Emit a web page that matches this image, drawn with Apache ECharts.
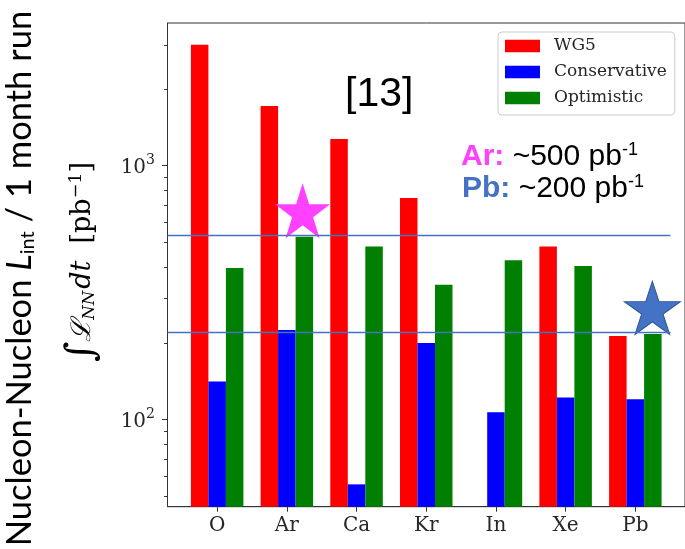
<!DOCTYPE html>
<html>
<head>
<meta charset="utf-8">
<script src="https://cdn.jsdelivr.net/npm/echarts@6/dist/echarts.min.js"></script>
<style>
  html, body { margin: 0; padding: 0; background: #ffffff; }
  #chart { width: 685px; height: 549px; }
</style>
</head>
<body>
<div id="chart"></div>
<script>
// Nucleon-nucleon integrated luminosity per 1-month run, by ion species
const nuclei = ['O', 'Ar', 'Ca', 'Kr', 'In', 'Xe', 'Pb'];
const wg5 = [3000, 1720, 1275, 746, null, 480, 213];
const conservative = [141, 225, 55.4, 200, 106.5, 122, 120];
const optimistic = [395, 525, 480, 339, 424, 402, 217];

// log-axis ticks
const yMajorTicks = [100, 1000];
const yMinorTicks = [50, 60, 70, 80, 90, 200, 300, 400, 500, 600, 700, 800, 900, 2000, 3000];

// reference levels (pb^-1) for Ar and Pb, and the star markers [x position, value]
const targetLevels = [532, 220];
const starMarks = [[1.226, 664], [6.244, 275]];

const xMin = -0.7125, xMax = 6.7125;
const yMin = 45.23, yMax = 3653;

function starPath() {
  const pts = [];
  for (let k = 0; k < 10; k++) {
    const r = k % 2 === 0 ? 100 : 38.2;
    const a = -Math.PI / 2 + k * Math.PI / 5;
    pts.push((r * Math.cos(a)).toFixed(2) + ' ' + (r * Math.sin(a)).toFixed(2));
  }
  return 'path://M' + pts.join(' L') + ' Z';
}

const serif = '"DejaVu Serif", serif';
const sans = '"Liberation Sans", Arial, sans-serif';
const axisColor = '#333333';

function pairs(arr) {
  const out = [];
  arr.forEach((v, i) => { if (v != null) out.push([i, v]); });
  return out;
}

// minor log ticks, placed through the y scale: [x, y]
const yMinorTickData = yMinorTicks.map(v => [xMin, v]);

function minorTickItem(params, api) {
  const p = api.coord([api.value(0), api.value(1)]);
  const y = Math.round(p[1]) + 0.5;
  return {
    type: 'line',
    shape: { x1: p[0] - 3.5, y1: y, x2: p[0], y2: y },
    style: { stroke: axisColor, lineWidth: 1 }
  };
}

const chart = echarts.init(document.getElementById('chart'), null, { renderer: 'canvas' });

const option = {
  animation: false,
  backgroundColor: '#ffffff',
  grid: {
    left: 167.5, top: 23, width: 519.75, height: 483.7,
    show: true, borderColor: axisColor, borderWidth: 1, backgroundColor: 'transparent'
  },
  legend: {
    data: ['WG5', 'Conservative', 'Optimistic'],
    orient: 'vertical',
    left: 498, top: 32,
    icon: 'rect',
    itemWidth: 35, itemHeight: 12.5, itemGap: 8,
    padding: [5, 8, 8, 7],
    borderColor: '#cccccc', borderWidth: 1, borderRadius: 4,
    backgroundColor: 'rgba(255,255,255,0.8)',
    textStyle: { fontFamily: serif, fontSize: 17, color: '#262626', padding: [0, 0, 0, 9], lineHeight: 18 }
  },
  xAxis: {
    type: 'value', min: xMin, max: xMax,
    axisLine: { show: true, onZero: false, lineStyle: { color: axisColor } },
    splitLine: { show: false },
    axisTick: { show: true, length: 5, customValues: nuclei.map((_, i) => i), lineStyle: { color: axisColor, width: 1 } },
    axisLabel: {
      customValues: nuclei.map((_, i) => i),
      formatter: v => nuclei[Math.round(v)] || '',
      fontFamily: serif, fontSize: 20, color: '#262626', margin: 9
    }
  },
  yAxis: {
    type: 'log', logBase: 10, min: yMin, max: yMax, position: 'left',
    axisLine: { show: true, onZero: false, lineStyle: { color: axisColor } },
    splitLine: { show: false },
    axisTick: { show: true, length: 5.5, customValues: yMajorTicks, lineStyle: { color: axisColor, width: 1 } },
    axisLabel: {
      customValues: yMajorTicks,
      margin: 12.5,
      formatter: v => '{b|10}{s|' + Math.round(Math.log10(v)) + '}',
      rich: {
        b: { fontFamily: serif, fontSize: 20, color: '#262626', verticalAlign: 'bottom', lineHeight: 24 },
        s: { fontFamily: serif, fontSize: 14, color: '#262626', verticalAlign: 'top', lineHeight: 16 }
      }
    }
  },
  graphic: [
    {
      type: 'text', x: 20, y: 278.5, rotation: Math.PI / 2,
      style: {
        text: 'Nucleon-Nucleon {i|L}{sub|int} / 1 month run',
        fontFamily: 'Lato, "Open Sans", sans-serif', fontSize: 34.5, fill: '#000000',
        align: 'center', verticalAlign: 'middle',
        rich: {
          i: { fontFamily: 'Lato, sans-serif', fontStyle: 'italic', fontSize: 34.5, fill: '#000000' },
          sub: { fontFamily: 'Lato, sans-serif', fontSize: 20, fill: '#000000', verticalAlign: 'bottom', padding: [14, 0, 0, 0] }
        }
      }
    },
    {
      type: 'text', x: 83, y: 262, rotation: Math.PI / 2,
      style: {
        text: '{int|∫}{L|ℒ}{nn|NN}{it|dt}{t|  [pb}{sup|−1}{t|]}',
        fontFamily: serif, fontSize: 27, fill: '#000000',
        align: 'center', verticalAlign: 'middle',
        rich: {
          int: { fontFamily: serif, fontSize: 39, fill: '#000000' },
          L: { fontFamily: serif, fontStyle: 'italic', fontSize: 27, fill: '#000000' },
          nn: { fontFamily: serif, fontStyle: 'italic', fontSize: 16.5, fill: '#000000', padding: [13, 2, 0, 0] },
          it: { fontFamily: serif, fontStyle: 'italic', fontSize: 27, fill: '#000000' },
          t: { fontFamily: serif, fontSize: 27, fill: '#000000' },
          sup: { fontFamily: serif, fontSize: 17.5, fill: '#000000', padding: [0, 0, 13, 0] }
        }
      }
    },
    {
      type: 'text', x: 345, y: 74,
      style: { text: '[13]', fontFamily: sans, fontSize: 41, fill: '#000000', align: 'left', verticalAlign: 'top' }
    },
    {
      type: 'text', x: 461, y: 157,
      style: {
        text: '{ar|Ar:}{t| ~500 pb}{sup|-1}',
        align: 'left', verticalAlign: 'middle',
        rich: {
          ar: { fontFamily: sans, fontWeight: 'bold', fontSize: 30, fill: '#ff40ff' },
          t: { fontFamily: sans, fontSize: 30, fill: '#000000' },
          sup: { fontFamily: sans, fontSize: 18, fill: '#000000', padding: [0, 0, 14, 0] }
        }
      }
    },
    {
      type: 'text', x: 462, y: 189,
      style: {
        text: '{pb|Pb:}{t| ~200 pb}{sup|-1}',
        align: 'left', verticalAlign: 'middle',
        rich: {
          pb: { fontFamily: sans, fontWeight: 'bold', fontSize: 30, fill: '#4472c4' },
          t: { fontFamily: sans, fontSize: 30, fill: '#000000' },
          sup: { fontFamily: sans, fontSize: 18, fill: '#000000', padding: [0, 0, 14, 0] }
        }
      }
    }
  ],
  series: [
    {
      name: 'WG5', type: 'bar', data: pairs(wg5),
      barWidth: 17.5, barGap: '0%',
      itemStyle: { color: '#ff0000' }
    },
    {
      name: 'Conservative', type: 'bar', data: pairs(conservative),
      barWidth: 17.5, barGap: '0%',
      itemStyle: { color: '#0000ff' }
    },
    {
      name: 'Optimistic', type: 'bar', data: pairs(optimistic),
      barWidth: 17.5, barGap: '0%',
      itemStyle: { color: '#008000' }
    },
    {
      name: 'minorTicks', type: 'custom', silent: true, clip: false, z: 1,
      encode: { x: 0, y: 1 },
      data: yMinorTickData, renderItem: minorTickItem
    },
    {
      name: 'levels', type: 'line', data: [], z: 3,
      markLine: {
        silent: true, symbol: ['none', 'none'],
        label: { show: false },
        lineStyle: { color: '#4472c4', width: 1.3, type: 'solid' },
        data: targetLevels.map(v => [{ coord: [xMin, v] }, { coord: [6.504, v] }])
      }
    },
    {
      name: 'stars', type: 'scatter', z: 4,
      symbol: starPath(),
      data: [
        { value: starMarks[0], symbolSize: [55, 55], itemStyle: { color: '#ff40ff', opacity: 1 } },
        { value: starMarks[1], symbolSize: [56, 53], itemStyle: { color: '#4472c4', borderColor: '#2f528f', borderWidth: 1, opacity: 1 } }
      ]
    }
  ]
};

chart.setOption(option);
</script>
</body>
</html>
